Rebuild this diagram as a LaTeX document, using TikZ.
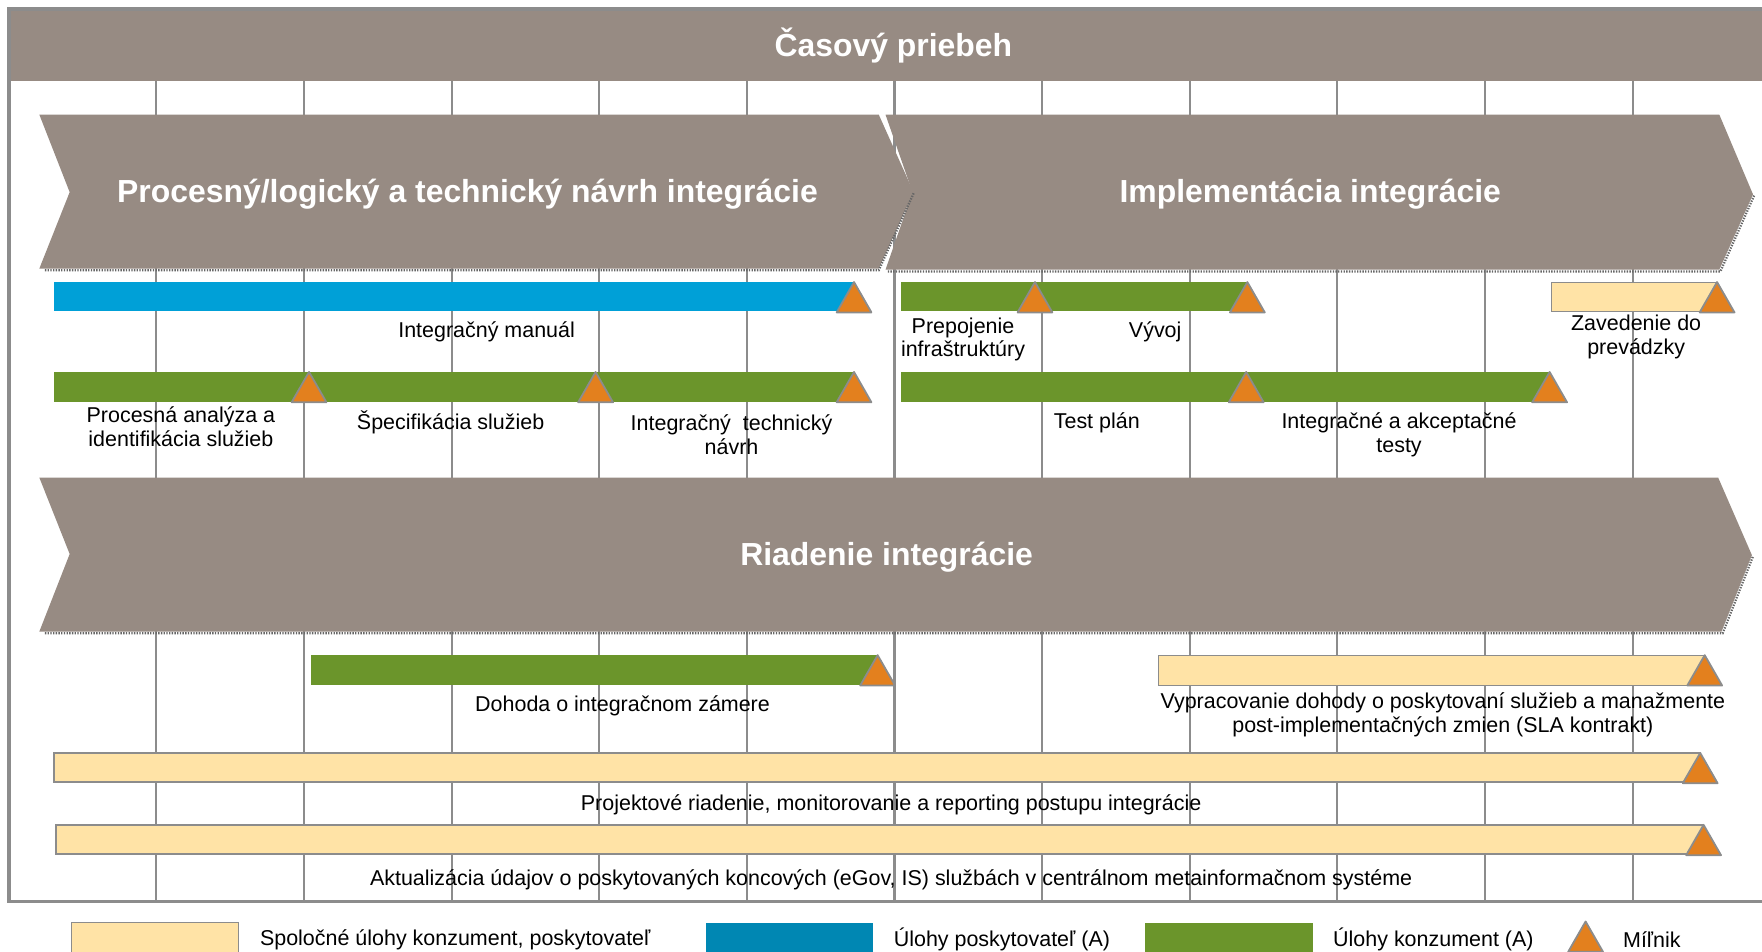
\documentclass[tikz,border=0pt]{standalone}
\usepackage{fontspec}
\setmainfont{Liberation Sans}
\definecolor{taupe}{HTML}{978B83}
\definecolor{rule}{HTML}{8C8C8C}
\definecolor{sky}{HTML}{00A0D7}
\definecolor{deepsky}{HTML}{0087B3}
\definecolor{leaf}{HTML}{6B952B}
\definecolor{cream}{HTML}{FFE3A6}
\definecolor{amber}{HTML}{E3801E}

\begin{document}
\begin{tikzpicture}[x=0.5pt,y=-0.5pt,
    gridline/.style={draw=rule,line width=0.9pt},
    frame/.style={draw=rule,line width=1.4pt},
    phase/.style={fill=taupe},
    rim/.style={draw=black!60,line width=1pt,dash pattern=on 0.6pt off 0.6pt},
    title/.style={text=white,font=\bfseries\fontsize{14.2}{17}\selectfont,inner sep=0pt},
    lbl/.style={align=center,inner sep=0pt,font=\fontsize{9.55}{10.6}\selectfont},
    key/.style={anchor=west,inner sep=0pt,font=\fontsize{9.55}{10.6}\selectfont},
    stone/.pic={\draw[fill=amber,draw=rule,line width=0.8pt,line join=round]
        (-15.5,27) -- (0,0) -- (15.5,27) -- cycle;}]
  \useasboundingbox (0,0) rectangle (1568,847);

  \foreach \i in {0,...,10}
    \draw[gridline] (139+131.4*\i,72) -- (139+131.4*\i,802);

  \fill[taupe] (8,8) rectangle (1580,72);
  \draw[frame] (1580,8) -- (8,8) -- (8,802) -- (1580,802);
  \node[title] (time) at (795,40.5) {Časový priebeh};

  \fill[phase] (35,102) -- (782,102) -- (813,171) -- (782,239) -- (35,239) -- (62,171) -- cycle;
  \fill[phase] (788,102) -- (1530,102) -- (1560,173) -- (1530,240) -- (788,240) -- (812,171) -- cycle;
  \fill[phase] (35,425) -- (1529,425) -- (1559,494) -- (1532,562) -- (35,562) -- (62,493) -- cycle;
  \draw[rim] (40,240.5) -- (782,240.5) -- (813,172);
  \draw[rim] (790,241.5) -- (1531,241.5) -- (1561,174);
  \draw[rim] (40,563.5) -- (1533,563.5) -- (1560,495);
  \node[title] (design) at (416,173) {Procesný/logický a technický návrh integrácie};
  \node[title] (build) at (1166,173) {Implementácia integrácie};
  \node[title] (lead) at (789,496) {Riadenie integrácie};

  \fill[sky] (48,251) rectangle (760,277);
  \fill[leaf] (802,251) rectangle (1110,277);
  \draw[fill=cream,draw=rule] (1381,251) rectangle (1528,277);
  \fill[leaf] (48,331) rectangle (760,358);
  \fill[leaf] (802,331) rectangle (1379,358);
  \fill[leaf] (277,583) rectangle (781,610);
  \draw[fill=cream,draw=rule] (1031,583) rectangle (1517,610);
  \draw[fill=cream,draw=rule,line width=0.8pt] (48,670) rectangle (1513,696);
  \draw[fill=cream,draw=rule,line width=0.8pt] (50,734) rectangle (1516,760);

  \foreach \x/\y in {760/251,921/251,1110/251,1528/251,
                     275/331,530/331,760/331,1109/331,1379/331,
                     781/583,1517/583,1513/670,1516/734}
    \pic at (\x,\y) {stone};

  \node[lbl] (manual) at (433,295) {Integračný manuál};
  \node[lbl] (infra) at (857,302) {Prepojenie\\infraštruktúry};
  \node[lbl] (dev) at (1028,295) {Vývoj};
  \node[lbl] (golive) at (1456,300) {Zavedenie do\\prevádzky};
  \node[lbl] (analysis) at (161,380) {Procesná analýza a\\identifikácia služieb};
  \node[lbl] (spec) at (401,376) {Špecifikácia služieb};
  \node[lbl] (techdes) at (651,387) {Integračný\ \ technický\\návrh};
  \node[lbl] (testplan) at (976,376) {Test plán};
  \node[lbl] (tests) at (1245,387) {Integračné a akceptačné\\testy};
  \node[lbl] (intent) at (554,628) {Dohoda o integračnom zámere};
  \node[lbl] (sla) at (1284,636) {Vypracovanie dohody o poskytovaní služieb a manažmente\\post-implementačných zmien (SLA kontrakt)};
  \node[lbl] (pm) at (793,716) {Projektové riadenie, monitorovanie a reporting postupu integrácie};
  \node[lbl] (meta) at (793,783) {Aktualizácia údajov o poskytovaných koncových (eGov, IS) službách v centrálnom metainformačnom systéme};

  \draw[fill=cream,draw=rule] (64,821) rectangle (212,852);
  \fill[deepsky] (628,821) rectangle (777,852);
  \fill[leaf] (1019,821) rectangle (1168,852);
  \pic at (1411,820) {stone};
  \node[key] (common) at (231,836) {Spoločné úlohy konzument, poskytovateľ};
  \node[key] (provider) at (795,836) {Úlohy poskytovateľ (A)};
  \node[key] (consumer) at (1186,836) {Úlohy konzument (A)};
  \node[key] (milestone) at (1444,836) {Míľnik};
\end{tikzpicture}
\end{document}
